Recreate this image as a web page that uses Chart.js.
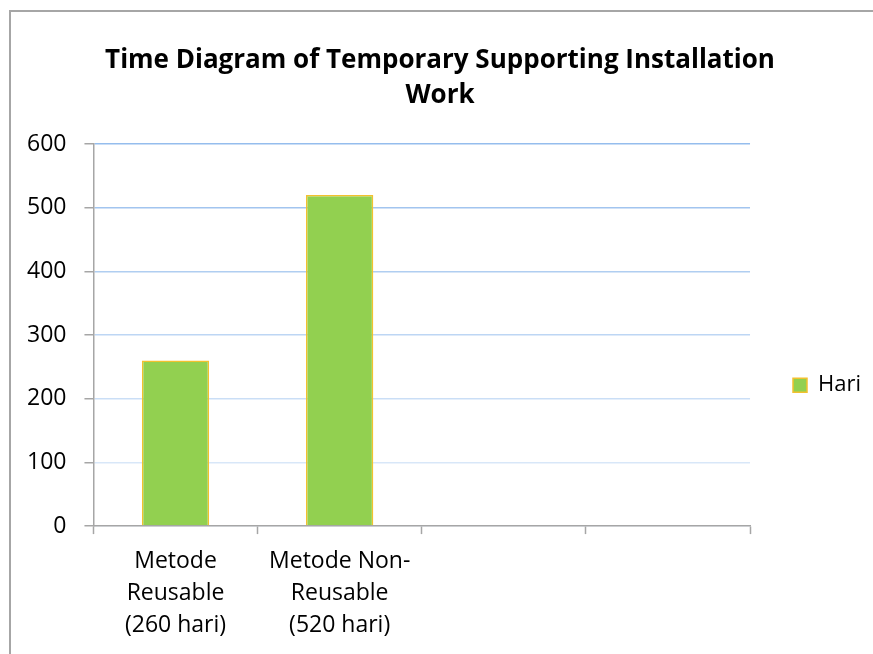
<!DOCTYPE html>
<html>
<head>
<meta charset="utf-8">
<script src="https://cdn.jsdelivr.net/npm/chart.js@4"></script>
<style>
  html, body { margin: 0; padding: 0; background: #fff; }
  #wrap { position: relative; width: 873px; height: 654px; overflow: hidden; }
  #frame { position: absolute; left: 9px; top: 10px; width: 900px; height: 700px;
           border-left: 2px solid #a6a6a6; border-top: 2px solid #a6a6a6; }
  #js-chart-time { position: absolute; left: 0; top: 0; }
</style>
</head>
<body>
<div id="wrap">
  <div id="frame"></div>
  <canvas id="js-chart-time" width="873" height="654"></canvas>
</div>
<script>
// chart values
const categories = [["Metode", "Reusable", "(260 hari)"], ["Metode Non-", "Reusable", "(520 hari)"], "", ""];
const hari = [260, 520, null, null];
const yMin = 0;
const yMax = 600;
const yStep = 100;
const titleLines = ["Time Diagram of Temporary Supporting Installation", "Work"];
const seriesName = "Hari";

document.addEventListener("DOMContentLoaded", function() {
    Chart.defaults.font.family = "'Open Sans', 'Noto Sans', sans-serif";
    Chart.defaults.color = "#000";
    createTimeChart();
});

function createTimeChart() {
    const element = document.getElementById("js-chart-time");
    if (!element) {
        console.error("Time chart element not found!");
        return;
    }
    new Chart(element, {
        type: "bar",
        data: {
            labels: categories,
            datasets: [{
                label: seriesName,
                backgroundColor: "#92d050",
                borderColor: "#f2c12e",
                borderWidth: 1.5,
                categoryPercentage: 1,
                barPercentage: 0.41,
                data: hari
            }]
        },
        options: {
            responsive: false,
            animation: false,
            layout: { padding: { left: 9, right: 2, top: 0, bottom: 2 } },
            scales: {
                x: {
                    grid: {
                        offset: true,
                        drawOnChartArea: false,
                        tickLength: 8,
                        tickColor: "#a6a6a6",
                        tickWidth: 1.5
                    },
                    border: { color: "#a6a6a6", width: 1.5 },
                    ticks: {
                        padding: 11,
                        maxRotation: 0,
                        autoSkip: false,
                        font: { size: 23, lineHeight: 1.39 }
                    }
                },
                y: {
                    min: yMin,
                    max: yMax,
                    grid: {
                        color: (ctx) => {
                            const v = ctx.tick ? ctx.tick.value : 0;
                            const a = 0.18 + 0.55 * (v / yMax);
                            return `rgba(110, 165, 230, ${a})`;
                        },
                        lineWidth: 1.5,
                        tickLength: 9,
                        tickColor: "#a6a6a6",
                        tickWidth: 1.5
                    },
                    border: { color: "#a6a6a6", width: 1.5 },
                    ticks: {
                        stepSize: yStep,
                        padding: 18,
                        font: { size: 23 }
                    }
                }
            },
            plugins: {
                title: {
                    display: true,
                    text: titleLines,
                    font: { size: 26, weight: "bold", lineHeight: 1.35 },
                    padding: { top: 43, bottom: 31 }
                },
                legend: {
                    position: "right",
                    align: "start",
                    title: { display: true, text: "", font: { size: 1 }, padding: { top: 330, bottom: 0 } },
                    labels: {
                        boxWidth: 14,
                        boxHeight: 14,
                        padding: 43,
                        font: { size: 22 },
                        color: "#000"
                    }
                },
                tooltip: { enabled: false }
            }
        }
    });
}
</script>
</body>
</html>
